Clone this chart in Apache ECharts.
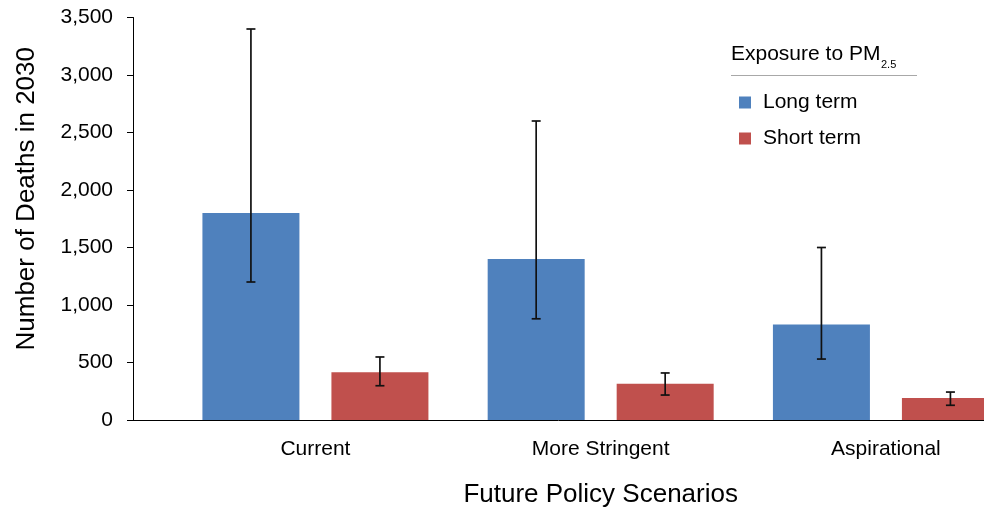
<!DOCTYPE html>
<html>
<head>
<meta charset="utf-8">
<script src="https://cdn.jsdelivr.net/npm/echarts@6/dist/echarts.min.js"></script>
<style>
html,body{margin:0;padding:0;background:#fff;}
#chart{width:984px;height:508px;}
</style>
</head>
<body>
<div id="chart"></div>
<script>
// ---- data ----
const categories = ['Current', 'More Stringent', 'Aspirational'];
const seriesNames = ['Long term', 'Short term'];
const longTerm = [1800, 1400, 830];
const shortTerm = [415, 316, 191];
const longLow = [1200, 880, 530];
const longHigh = [3400, 2600, 1500];
const shortLow = [298, 217, 128];
const shortHigh = [548, 409, 243];
const yMin = 0, yMax = 3500, yStep = 500;

// ---- style ----
const FONT = '"Liberation Sans", Arial, Helvetica, sans-serif';
const BLUE = '#4F81BD', RED = '#C0504D';
const BAR_W = 97, BAR_GAP = 32;
const TOP = 17.5, BOTTOM = 88;

function errData(low, high) {
  return categories.map((c, i) => [i, low[i], high[i]]);
}
function errRender(sign) {
  return function (params, api) {
    const i = api.value(0);
    const lo = api.coord([i, api.value(1)]);
    const hi = api.coord([i, api.value(2)]);
    const x = lo[0] + sign * (BAR_W + BAR_GAP) / 2;
    const cap = 4.5;
    const st = { stroke: '#111', lineWidth: 1.7 };
    return {
      type: 'group',
      children: [
        { type: 'line', shape: { x1: x, y1: lo[1], x2: x, y2: hi[1] }, style: st },
        { type: 'line', shape: { x1: x - cap, y1: lo[1], x2: x + cap, y2: lo[1] }, style: st },
        { type: 'line', shape: { x1: x - cap, y1: hi[1], x2: x + cap, y2: hi[1] }, style: st }
      ]
    };
  };
}

const chart = echarts.init(document.getElementById('chart'), null, { renderer: 'canvas' });
chart.setOption({
  animation: false,
  backgroundColor: '#fff',
  textStyle: { fontFamily: FONT },
  title: {
    left: 731, top: 44, padding: 0,
    text: 'Exposure to PM',
    textStyle: { fontSize: 21, fontFamily: FONT, color: '#000', fontWeight: 'normal' }
  },
  legend: {
    data: seriesNames,
    orient: 'vertical',
    left: 739, top: 92, padding: 0,
    itemWidth: 12, itemHeight: 12, itemGap: 15,
    icon: 'rect',
    textStyle: { fontSize: 21, fontFamily: FONT, color: '#000', padding: [0, 0, 0, 7] }
  },
  graphic: [
    { type: 'text', left: 881, top: 59, silent: true,
      style: { text: '2.5', fontSize: 11, fontFamily: FONT, fill: '#000' } },
    { type: 'line', shape: { x1: 731, y1: 75.5, x2: 917, y2: 75.5 }, style: { stroke: '#a8a8a8', lineWidth: 1 }, silent: true }
  ],
  grid: [
    { left: 172.8, width: 855.75, top: TOP, bottom: BOTTOM, containLabel: false, outerBoundsMode: 'none' },
    { left: 133, right: 0, top: TOP, bottom: BOTTOM, containLabel: false, outerBoundsMode: 'none' }
  ],
  xAxis: [
    {
      gridIndex: 0, type: 'category', data: categories,
      axisLine: { show: false }, axisTick: { show: false },
      axisLabel: { fontSize: 21, fontFamily: FONT, color: '#000', margin: 19 },
      name: 'Future Policy Scenarios', nameLocation: 'middle', nameGap: 62,
      nameTextStyle: { fontSize: 26, fontFamily: FONT, color: '#000' }
    },
    {
      gridIndex: 1, type: 'value', min: 0, max: 1,
      axisLine: { show: true, onZero: false, lineStyle: { color: '#000', width: 1 } },
      axisTick: { show: false }, axisLabel: { show: false }, splitLine: { show: false }
    }
  ],
  yAxis: [
    { gridIndex: 0, type: 'value', min: yMin, max: yMax, interval: yStep, show: false, splitLine: { show: false } },
    {
      gridIndex: 1, type: 'value', min: yMin, max: yMax, interval: yStep,
      axisLine: { show: true, lineStyle: { color: '#000', width: 1 } },
      axisTick: { show: true, length: 6, lineStyle: { color: '#000' } },
      splitLine: { show: false },
      axisLabel: {
        fontSize: 21, fontFamily: FONT, color: '#000', margin: 20,
        formatter: v => v.toLocaleString('en-US')
      },
      name: 'Number of Deaths in 2030', nameLocation: 'middle', nameGap: 93, nameRotate: 90,
      nameTextStyle: { fontSize: 26, fontFamily: FONT, color: '#000', padding: [0, 0, 0, 40] }
    }
  ],
  series: [
    {
      name: seriesNames[0], type: 'bar', xAxisIndex: 0, yAxisIndex: 0,
      data: longTerm, barWidth: BAR_W, barGap: (BAR_GAP / BAR_W * 100) + '%',
      itemStyle: { color: BLUE }
    },
    {
      name: seriesNames[1], type: 'bar', xAxisIndex: 0, yAxisIndex: 0,
      data: shortTerm, barWidth: BAR_W, barGap: (BAR_GAP / BAR_W * 100) + '%',
      itemStyle: { color: RED }
    },
    {
      type: 'custom', xAxisIndex: 0, yAxisIndex: 0, z: 5,
      data: errData(longLow, longHigh), renderItem: errRender(-1), silent: true
    },
    {
      type: 'custom', xAxisIndex: 0, yAxisIndex: 0, z: 5,
      data: errData(shortLow, shortHigh), renderItem: errRender(1), silent: true
    }
  ]
});
</script>
</body>
</html>
